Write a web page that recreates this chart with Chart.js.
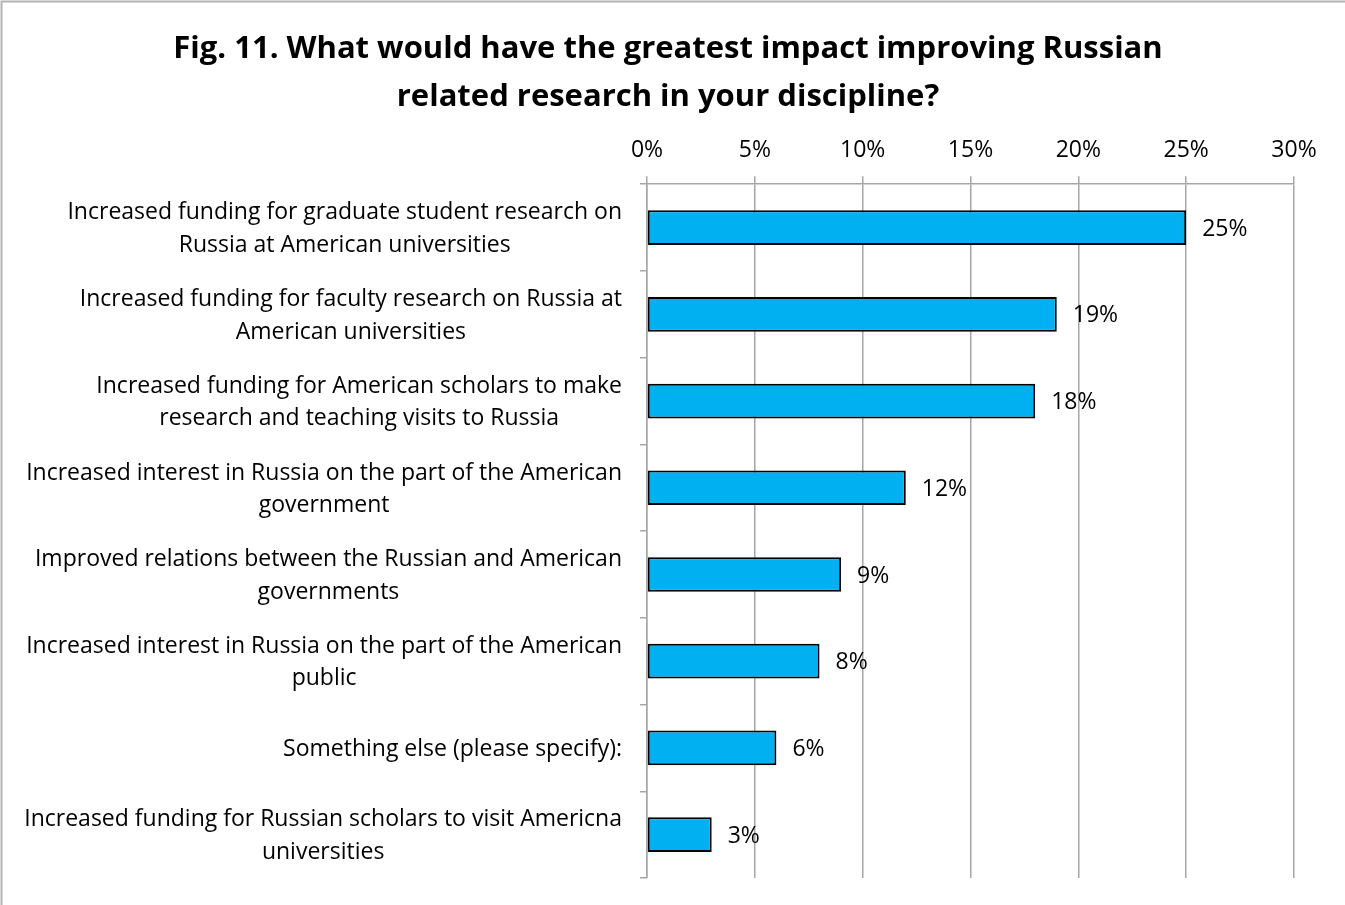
<!DOCTYPE html>
<html lang="en">
<head>
    <meta charset="UTF-8">
    <title>Fig. 11</title>
    <style>
        body { margin: 0; background: #fff; }
        #wrap { width: 1345px; height: 905px; position: relative; }
    </style>
</head>
<body>
    <div id="wrap"><canvas id="myChart" width="1345" height="905"></canvas></div>

    <script src="https://cdn.jsdelivr.net/npm/chart.js"></script>
    <script>
    // survey answers, top to bottom
    var categories = [
        ['Increased funding for graduate student research on', 'Russia at American universities'],
        ['Increased funding for faculty research on Russia at', 'American universities'],
        ['Increased funding for American scholars to make', 'research and teaching visits to Russia'],
        ['Increased interest in Russia on the part of the American', 'government'],
        ['Improved relations between the Russian and American', 'governments'],
        ['Increased interest in Russia on the part of the American', 'public'],
        ['Something else (please specify):'],
        ['Increased funding for Russian scholars to visit Americna', 'universities']
    ];
    var shares = [25, 19, 18, 12, 9, 8, 6, 3]; // percent of respondents
    var xTicks = [0, 5, 10, 15, 20, 25, 30];

    var titleLines = ['Fig. 11. What would have the greatest impact improving Russian',
                      'related research in your discipline?'];

    var FONT = '"Open Sans", Lato, Arial, sans-serif';
    var GRID = '#a6a6a6';

    // white background + thin frame on the top and left edges
    var frame = {
        id: 'frame',
        beforeDraw: function(chart) {
            var c = chart.ctx;
            c.save();
            c.fillStyle = '#fff';
            c.fillRect(0, 0, chart.width, chart.height);
            c.strokeStyle = '#b3b3b3';
            c.lineWidth = 2;
            c.beginPath();
            c.moveTo(1.5, chart.height);
            c.lineTo(1.5, 1.5);
            c.lineTo(chart.width, 1.5);
            c.stroke();
            c.restore();
        }
    };

    // category labels: each block right-aligned, its lines centred inside it
    var catLabels = {
        id: 'catLabels',
        afterDraw: function(chart) {
            var c = chart.ctx, y = chart.scales.y;
            var right = y.right - 25, lh = 32.5;
            c.save();
            c.font = '23px ' + FONT;
            c.fillStyle = '#000';
            c.textAlign = 'center';
            c.textBaseline = 'middle';
            categories.forEach(function(lines, i) {
                var w = Math.max.apply(null, lines.map(function(s) { return c.measureText(s).width; }));
                var cx = right - w / 2;
                var cy = y.getPixelForValue(i) + 1.5 - (lines.length - 1) * lh / 2;
                lines.forEach(function(s, k) { c.fillText(s, cx, cy + k * lh); });
            });
            c.restore();
        }
    };

    // value labels to the right of each bar
    var valueLabels = {
        id: 'valueLabels',
        afterDatasetsDraw: function(chart) {
            var c = chart.ctx, meta = chart.getDatasetMeta(0);
            c.save();
            c.font = '23px ' + FONT;
            c.fillStyle = '#000';
            c.textAlign = 'left';
            c.textBaseline = 'middle';
            meta.data.forEach(function(bar, i) {
                c.fillText(shares[i] + '%', bar.x + 16, bar.y + 1.5);
            });
            c.restore();
        }
    };

    var ctx = document.getElementById('myChart').getContext('2d');
    window.myChart = new Chart(ctx, {
        type: 'bar',
        data: {
            labels: categories,
            datasets: [{
                data: shares,
                backgroundColor: '#00b0f0',
                borderColor: '#000',
                borderWidth: 2,
                borderSkipped: false,
                barPercentage: 0.4,
                categoryPercentage: 1
            }]
        },
        options: {
            indexAxis: 'y',
            responsive: false,
            animation: false,
            layout: { padding: { left: 42, right: 51, top: 0, bottom: 27 } },
            plugins: {
                legend: { display: false },
                tooltip: { enabled: false },
                title: {
                    display: true,
                    text: titleLines,
                    color: '#000',
                    font: { family: FONT, size: 31, weight: 'bold', lineHeight: 1.52 },
                    padding: { top: 26, bottom: 4 }
                }
            },
            scales: {
                x: {
                    position: 'top',
                    min: 0,
                    max: 30,
                    afterBuildTicks: function(scale) {
                        scale.ticks = xTicks.map(function(v) { return { value: v }; });
                    },
                    afterFit: function(scale) { scale.height = 60; },
                    grid: { color: GRID, lineWidth: 1.5, tickLength: 8 },
                    border: { color: GRID, width: 1.5 },
                    ticks: {
                        color: '#000',
                        padding: 12,
                        font: { family: FONT, size: 23 },
                        callback: function(v) { return v + '%'; }
                    }
                },
                y: {
                    afterFit: function(scale) { scale.width = 605; },
                    grid: { drawOnChartArea: false, color: GRID, lineWidth: 1.5, tickLength: 7 },
                    border: { color: GRID, width: 1.5 },
                    ticks: { display: false }
                }
            }
        },
        plugins: [frame, catLabels, valueLabels]
    });
    </script>
</body>
</html>
